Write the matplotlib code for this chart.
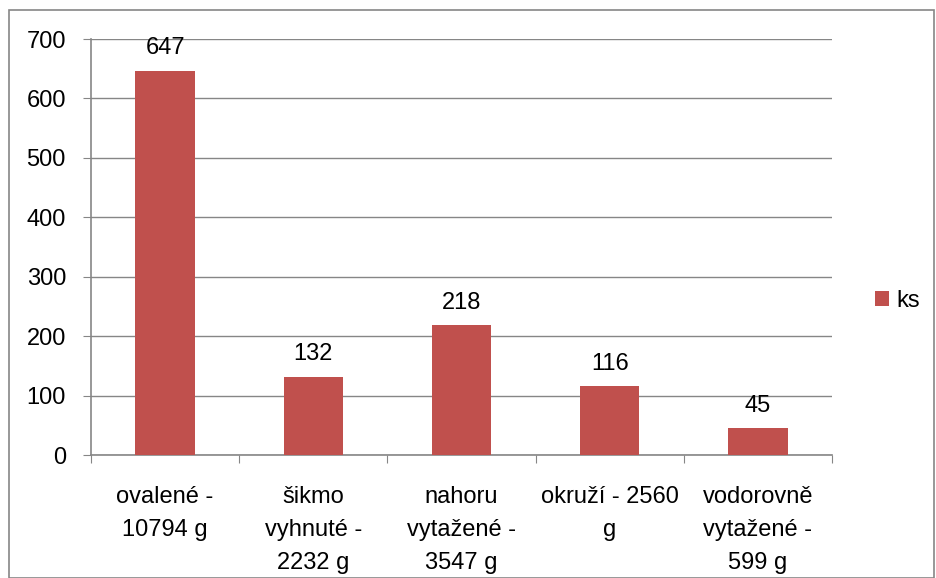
import matplotlib.pyplot as plt
from matplotlib.patches import Rectangle

# data
kategorie = ['ovalené -\n10794 g', 'šikmo\nvyhnuté -\n2232 g', 'nahoru\nvytažené -\n3547 g',
             'okruží - 2560\ng', 'vodorovně\nvytažené -\n599 g']
ks = [647, 132, 218, 116, 45]
yticks = [0, 100, 200, 300, 400, 500, 600, 700]

plt.rcParams['font.family'] = ['Liberation Sans', 'DejaVu Sans']
fs = 17

fig = plt.figure(figsize=(9.36, 5.78), dpi=100)
ax = fig.add_axes([0.0972, 0.2128, 0.7918, 0.7197])

x = range(len(ks))
bars = ax.bar(x, ks, width=0.4, color='#C0504D', label='ks', zorder=3)
for b, v in zip(bars, ks):
    ax.annotate(str(v), (b.get_x() + b.get_width() / 2, v), xytext=(0, 8),
                textcoords='offset points', ha='center', va='bottom', fontsize=fs)

ax.set_xlim(-0.5, len(ks) - 0.5)
ax.set_ylim(0, 700)
ax.set_yticks(yticks)
ax.tick_params(axis='y', labelsize=fs, length=6, color='#868686', pad=12)
ax.yaxis.grid(True, color='#868686', linewidth=1, zorder=0)

# category ticks on the boundaries, labels in the middle
ax.set_xticks([i - 0.5 for i in range(len(ks) + 1)])
ax.set_xticklabels([])
ax.tick_params(axis='x', length=6, color='#868686')
ax.set_xticks(list(x), minor=True)
ax.set_xticklabels(kategorie, minor=True, fontsize=fs, linespacing=1.65)
ax.tick_params(axis='x', which='minor', length=0, pad=22)

for s in ['top', 'right']:
    ax.spines[s].set_visible(False)
for s in ['left', 'bottom']:
    ax.spines[s].set_color('#868686')
    ax.spines[s].set_linewidth(1.2)

fig.legend(loc='center left', bbox_to_anchor=(0.935, 0.48), frameon=False,
           fontsize=fs, handlelength=0.6, handleheight=0.6, handletextpad=0.3,
           borderpad=0, borderaxespad=0)

fig.patches.append(Rectangle((0.0096, 0.0), 0.988, 0.983, transform=fig.transFigure,
                             fill=False, edgecolor='#868686', linewidth=1.2))

fig.savefig('out.png', dpi=100)
